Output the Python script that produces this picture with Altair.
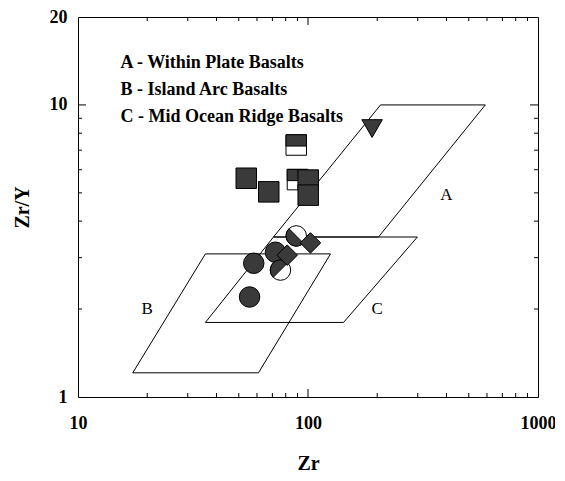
import altair as alt
import pandas as pd

# ---- Discrimination fields (Zr ppm, Zr/Y), closed polygons ----
field_a_zr = [70.8, 202.5, 590.0, 206.7, 70.8]
field_a_zry = [3.53, 3.53, 10.0, 10.0, 3.53]
field_b_zr = [17.3, 60.9, 125.3, 35.8, 17.3]
field_b_zry = [1.21, 1.21, 3.09, 3.09, 1.21]
field_c_zr = [35.8, 142.7, 299.0, 70.8, 35.8]
field_c_zry = [1.80, 1.80, 3.53, 3.53, 1.80]

field_letters = ["A", "B", "C"]
field_letter_zr = [400, 20, 200]
field_letter_zry = [4.9, 2.0, 2.0]

legend_lines = ["A - Within Plate Basalts", "B - Island Arc Basalts", "C - Mid Ocean Ridge Basalts"]
legend_zr = [15.3, 15.3, 15.3]
legend_zry = [13.9, 11.26, 9.10]

# ---- Samples ----
tri_zr = [190.0]
tri_zry = [8.3]
halfsq_zr = [88.9, 90.0]
halfsq_zry = [7.29, 5.55]
sq_zr = [53.9, 67.5, 100.2, 100.2]
sq_zry = [5.61, 5.04, 5.53, 4.91]
circ_zr = [58.1, 72.2, 55.7]
circ_zry = [2.87, 3.13, 2.20]
halfcirc_ul_zr = [75.9]
halfcirc_ul_zry = [2.72]
halfcirc_ll_zr = [88.9]
halfcirc_ll_zry = [3.56]
diam_zr = [102.5, 81.2]
diam_zry = [3.37, 3.06]

# ---- Axis ticks ----
x_minor = [20, 30, 40, 50, 60, 70, 80, 90, 200, 300, 400, 500, 600, 700, 800, 900]
x_major = [100]
y_minor = [2, 3, 4, 5, 6, 7, 8, 9]
y_major = [10]
x_labels = [10, 100, 1000]
y_labels = [1, 10, 20]

FONT = "Liberation Serif"
DARK = "#3a3a3a"

xs = alt.Scale(type="log", domain=[10, 1000], nice=False)
ys = alt.Scale(type="log", domain=[1, 20], nice=False)

rows = []
for name, zx, zy in [("A", field_a_zr, field_a_zry), ("B", field_b_zr, field_b_zry), ("C", field_c_zr, field_c_zry)]:
    for i, (a, b) in enumerate(zip(zx, zy)):
        rows.append({"field": name, "i": i, "zr": a, "zry": b})
fields_df = pd.DataFrame(rows)

fields = alt.Chart(fields_df).mark_line(color="black", strokeWidth=1).encode(
    x=alt.X("zr:Q", scale=xs, title="Zr",
            axis=alt.Axis(values=x_labels, format="d", ticks=False, grid=False, domain=False,
                          labelFont=FONT, labelFontWeight="bold", labelFontSize=18, labelColor="black",
                          labelPadding=17, titleFont=FONT, titleFontWeight="bold", titleFontSize=20,
                          titleColor="black", titlePadding=21, labelFlush=False)),
    y=alt.Y("zry:Q", scale=ys, title="Zr/Y",
            axis=alt.Axis(values=y_labels, format="d", ticks=False, grid=False, domain=False,
                          labelFont=FONT, labelFontWeight="bold", labelFontSize=18, labelColor="black",
                          labelPadding=11, titleFont=FONT, titleFontWeight="bold", titleFontSize=20,
                          titleColor="black", titlePadding=17, labelFlush=False)),
    detail="field:N",
    order="i:Q",
)

def tick_layer(vals, axis, edge, size, offset):
    df = pd.DataFrame({"v": vals})
    if axis == "x":
        return alt.Chart(df).mark_tick(orient="vertical", size=size, thickness=1, color="black",
                                       yOffset=offset, opacity=1).encode(
            x=alt.X("v:Q", scale=xs), y=alt.datum(edge, scale=ys))
    return alt.Chart(df).mark_tick(orient="horizontal", size=size, thickness=1, color="black",
                                   xOffset=offset, opacity=1).encode(
        y=alt.Y("v:Q", scale=ys), x=alt.datum(edge, scale=xs))

ticks = [
    tick_layer(x_minor, "x", 1, 4, -2), tick_layer(x_major, "x", 1, 8, -4),
    tick_layer(x_minor, "x", 20, 4, 2), tick_layer(x_major, "x", 20, 8, 4),
    tick_layer(y_minor, "y", 10, 4, 2), tick_layer(y_major, "y", 10, 8, 4),
    tick_layer(y_minor, "y", 1000, 4, -2), tick_layer(y_major, "y", 1000, 8, -4),
]

legend = alt.Chart(pd.DataFrame({"t": legend_lines, "zr": legend_zr, "zry": legend_zry})).mark_text(
    align="left", baseline="middle", font=FONT, fontWeight="bold", fontSize=18, color="black"
).encode(x="zr:Q", y="zry:Q", text="t:N")

letters = alt.Chart(pd.DataFrame({"t": field_letters, "zr": field_letter_zr, "zry": field_letter_zry})).mark_text(
    align="center", baseline="middle", font=FONT, fontSize=17, color="black"
).encode(x="zr:Q", y="zry:Q", text="t:N")

def pts(zx, zy, shape, fill, size=400):
    return alt.Chart(pd.DataFrame({"zr": zx, "zry": zy})).mark_point(
        shape=shape, filled=True, fill=fill, stroke="black", strokeWidth=1, size=size, opacity=1
    ).encode(x="zr:Q", y="zry:Q")

SQ_TOP = "M-1,-1L1,-1L1,0.1L-1,0.1Z"
CIRC_UL = "M-0.707,0.707A1,1,0,0,1,0.707,-0.707Z"
CIRC_LL = "M-0.707,-0.707A1,1,0,0,0,0.707,0.707Z"

symbols = [
    pts(halfsq_zr, halfsq_zry, "square", "white", 420),
    pts(halfsq_zr, halfsq_zry, SQ_TOP, DARK, 420),
    pts(sq_zr, sq_zry, "square", DARK, 420),
    pts(tri_zr, tri_zry, "triangle-down", DARK, 420),
    pts(circ_zr, circ_zry, "circle", DARK, 420),
    pts(halfcirc_ul_zr, halfcirc_ul_zry, "circle", "white", 420),
    pts(halfcirc_ul_zr, halfcirc_ul_zry, CIRC_UL, DARK, 420),
    pts(halfcirc_ll_zr, halfcirc_ll_zry, "circle", "white", 420),
    pts(halfcirc_ll_zr, halfcirc_ll_zry, CIRC_LL, DARK, 420),
    pts(diam_zr, diam_zry, "diamond", DARK, 420),
]

chart = alt.layer(fields, *ticks, legend, letters, *symbols).properties(
    width=460, height=380,
    autosize=alt.AutoSizeParams(type="none"),
    padding={"left": 70, "top": 9, "right": 17, "bottom": 75},
    background="white",
).configure_view(stroke="black", strokeWidth=1)

chart.save("out.html", embed_options={"renderer": "svg", "actions": False})
